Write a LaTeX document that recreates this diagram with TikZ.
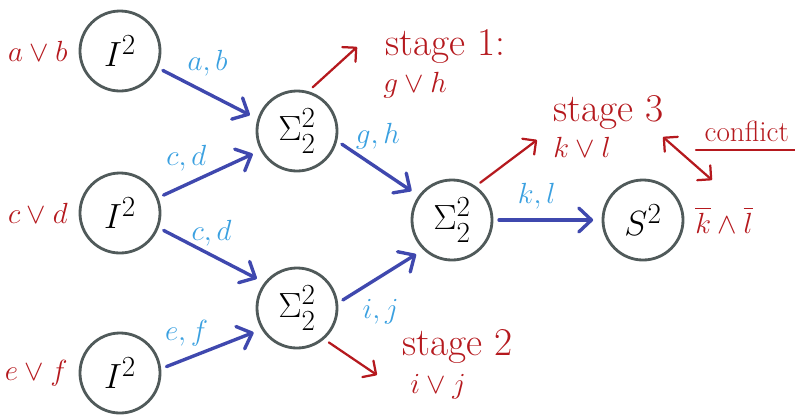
\documentclass[tikz,border=0pt]{standalone}
\usepackage{amsmath,amssymb}
\usepackage{tikz}
\usepackage{color}
\usetikzlibrary{arrows.meta,positioning}

\definecolor{ringgray}{RGB}{80,90,90}
\definecolor{flowblue}{RGB}{63,72,174}
\definecolor{varblue}{RGB}{58,160,224}
\definecolor{stagered}{RGB}{181,25,30}

\tikzset{
	gate/.style={draw=ringgray,circle,line width=2pt,minimum size=2cm,inner sep=0pt,fill=white,font=\fontsize{30}{36}\selectfont},
	flow/.style={flowblue,line width=2.4pt,line cap=round,-{Straight Barb[length=9pt,width=17pt,round]},shorten <=4pt,shorten >=6pt},
	flowlbl/.style={varblue,font=\fontsize{22}{26}\selectfont,inner sep=1pt},
	clause/.style={stagered,font=\fontsize{22}{26}\selectfont},
	stagelbl/.style={stagered,font=\fontsize{28}{32}\selectfont,inner sep=0pt,anchor=base west},
	stagemath/.style={stagered,font=\fontsize{22}{26}\selectfont,inner sep=0pt,anchor=base west},
	stagearr/.style={stagered,line width=1.6pt,line cap=round,-{Straight Barb[length=7pt,width=14pt,round]},shorten <=4pt},
}

\begin{document}
\begin{tikzpicture}[x=0.025cm,y=-0.025cm]
	\useasboundingbox (0,0) rectangle (795,417);

	\coordinate (i1) at (120,51);
	\coordinate (i2) at (120,213);
	\coordinate (i3) at (120,373);
	\coordinate (s1) at (297,131);
	\coordinate (s2) at (297,308);
	\coordinate (s3) at (452,220);
	\coordinate (sf) at (643,220);

	\node[gate] (I1) at (i1){$I^2$};
	\node[gate] (I2) at (i2){$I^2$};
	\node[gate] (I3) at (i3){$I^2$};
	\node[gate] (S1) at (s1){$\Sigma^2_2$};
	\node[gate] (S2) at (s2){$\Sigma^2_2$};
	\node[gate] (S3) at (s3){$\Sigma^2_2$};
	\node[gate] (SF) at (sf){$S^2$};

	\node[clause,left=0.15cm of I1] (ab) {$a\vee b$};
	\node[clause,left=0.15cm of I2] (cd) {$c\vee d$};
	\node[clause,left=0.15cm of I3] (ef) {$e\vee f$};
	\node[stagered,font=\huge,right=0.15cm of SF] (klbar) {$\overline{k}\wedge\overline{l}$};

	\draw[flow] (I1.-24) -- node[flowlbl,above=0.35cm]{$a,b$} (S1.163);
	\draw[flow] (I2.22) -- node[flowlbl,above left=0pt]{$c,d$} (S1.208);
	\draw[flow] (I2.-21) -- node[flowlbl,above=0.15cm]{$c,d$} (S2.142);
	\draw[flow] (I3.6) -- node[flowlbl,above left=0pt]{$e,f$} (S2.211);
	\draw[flow] (S1.-14) -- node[flowlbl,above=0.4cm]{$g,h$} (S3.144);
	\draw[flow] (S2.7) -- node[flowlbl,below=0.5cm]{$i,j$} (S3.226);
	\draw[flow] (S3.0) -- node[flowlbl,pos=0.4,above=0.2cm]{$k,l$} (SF.180);

	\coordinate (t1) at (357,47);
	\coordinate (t2) at (377,375);
	\coordinate (t3) at (537,140);
	\coordinate (c1) at (663,137);
	\coordinate (c2) at (712,180);

	\node[stagelbl] (st1) at (385,55){stage 1:};
	\node[stagemath] (gh) at (383,92){$g\vee h$};
	\node[stagelbl] (st2) at (402,355){stage 2};
	\node[stagemath] (ij) at (410,393){$i\vee j$};
	\node[stagelbl] (st3) at (553,121){stage 3};
	\node[stagemath] (kl) at (553,157){$k\vee l$};
	\node[stagered,font=\huge,inner sep=6pt,anchor=base west] (conf) at (696,141){conflict};

	\draw[stagearr] (S1.74) -- (t1);
	\draw[stagearr] (S2.-49) -- (t2);
	\draw[stagearr] (S3.55) -- (t3);
	\draw[stagearr,shorten <=0pt,{Straight Barb[length=7pt,width=14pt,round]}-{Straight Barb[length=7pt,width=14pt,round]}] (c1) -- (c2);
	\draw[stagered,line width=1.6pt,line cap=round] (conf.south west) -- (conf.south east);
\end{tikzpicture}
\end{document}
